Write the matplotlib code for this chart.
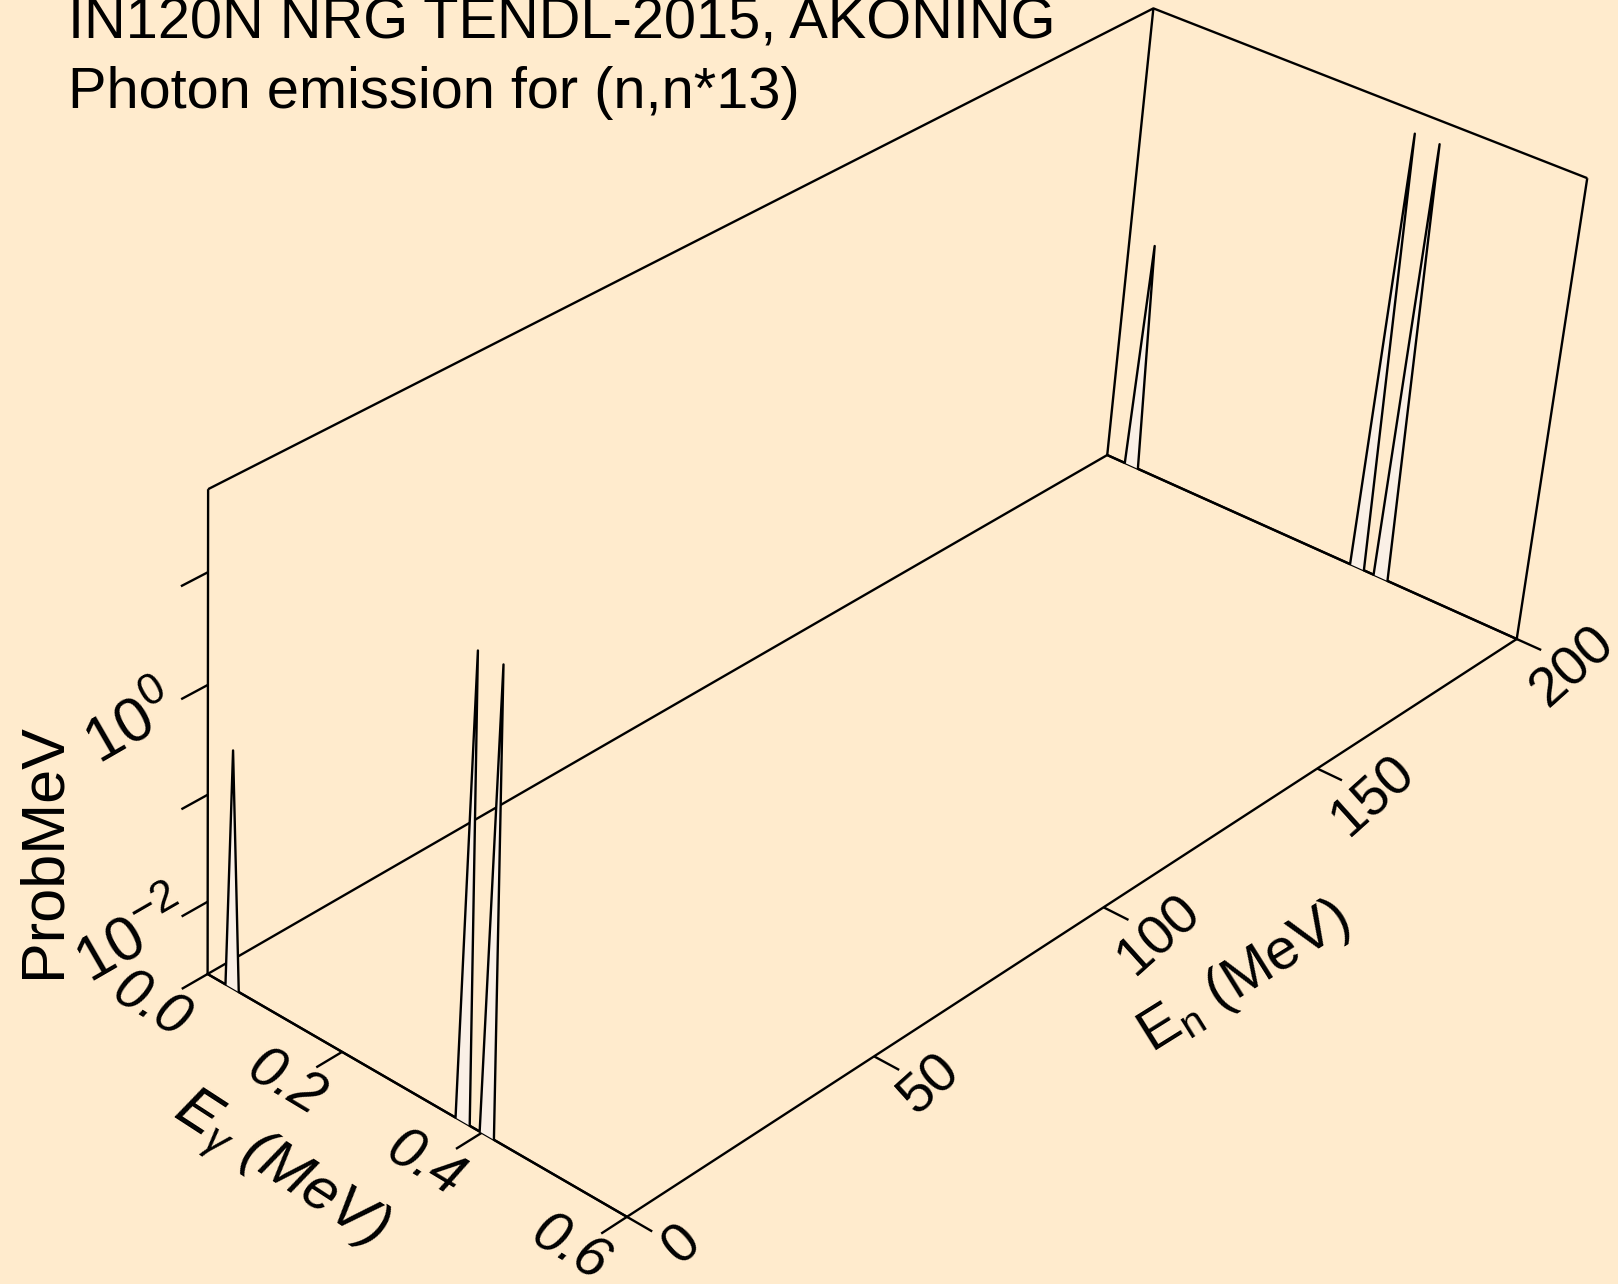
import numpy as np
import matplotlib.pyplot as plt

plt.rcParams['font.family'] = ['Liberation Sans', 'DejaVu Sans']
plt.rcParams['mathtext.fontset'] = 'custom'
plt.rcParams['mathtext.rm'] = 'Liberation Sans'
plt.rcParams['mathtext.it'] = 'Liberation Sans:italic'

title1 = 'IN120N NRG TENDL-2015, AKONING'
title2 = 'Photon emission for (n,n*13)'

# incident neutron energies (MeV) of the two spectra
e_incident = [0.0, 200.0]
# photon energy grid (MeV) and prob/MeV at each incident energy
e_gamma = [0.0, 0.027, 0.037, 0.047, 0.363, 0.373, 0.383, 0.397, 0.407, 0.417, 0.6]
prob_low = [0, 0, 0.34, 0, 0, 33.5, 0, 0, 33.0, 0, 0]
prob_high = [0, 0, 0.34, 0, 0, 33.0, 0, 0, 32.5, 0, 0]
spectra = [prob_low, prob_high]

eg_ticks = [0.0, 0.2, 0.4, 0.6]
eg_ticklabels = ['0.0', '0.2', '0.4', '0.6']
en_ticks = [0, 50, 100, 150, 200]
en_ticklabels = ['0', '50', '100', '150', '200']
z_ticks = [-2, -1, 0, 1]
z_ticklabels = {-2: r'$\mathit{10}^{\mathit{-2}}$', 0: r'$\mathit{10}^{\mathit{0}}$'}

# box limits (z is log10 of prob/MeV)
EG_LIM = (0.0, 0.6)
EN_LIM = (0.0, 200.0)
Z_LIM = (-2.69, 1.72)

W, H = 1618, 1284
BG = '#FFEBCD'
FILL = '#FAF0E6'
LW = 1.7

# where a few box points land on the page, used to fit the perspective camera
ANCHORS = [
    ((0.0, 0, Z_LIM[0]), (208, 974)),
    ((0.0, 0, Z_LIM[1]), (208, 489.3)),
    ((0.0, 200, Z_LIM[0]), (1107.3, 455)),
    ((0.0, 200, Z_LIM[1]), (1153.3, 8.3)),
    ((0.6, 200, Z_LIM[0]), (1516.7, 639)),
    ((0.6, 200, Z_LIM[1]), (1587.3, 178.3)),
    ((0.6, 0, Z_LIM[0]), (628.3, 1216.7)),
    ((0.2, 0, Z_LIM[0]), (341.7, 1052)),
    ((0.4, 0, Z_LIM[0]), (480, 1132.7)),
    ((0.0, 0, 1), (208, 571.7)),
    ((0.0, 0, 0), (208, 685)),
    ((0.0, 0, -1), (208, 795)),
    ((0.0, 0, -2), (208, 901.7)),
]


def norm(eg, en, z):
    return ((np.asarray(eg, float) - EG_LIM[0]) / (EG_LIM[1] - EG_LIM[0]),
            (np.asarray(en, float) - EN_LIM[0]) / (EN_LIM[1] - EN_LIM[0]),
            (np.asarray(z, float) - Z_LIM[0]) / (Z_LIM[1] - Z_LIM[0]))


def fit_camera():
    rows = []
    for (eg, en, z), (u, v) in ANCHORS:
        p = np.array([*[float(c) for c in norm(eg, en, z)], 1.0])
        u, v = u / W, v / H
        rows.append(np.r_[p, np.zeros(4), -u * p])
        rows.append(np.r_[np.zeros(4), p, -v * p])
    return np.linalg.svd(np.array(rows))[2][-1].reshape(3, 4)


CAM = fit_camera()


def proj(eg, en, z):
    x, y, zz = np.broadcast_arrays(*norm(eg, en, z))
    h = CAM @ np.vstack([x.ravel(), y.ravel(), zz.ravel(), np.ones(x.size)])
    return h[0] / h[2] * W, h[1] / h[2] * H


fig = plt.figure(figsize=(W / 100, H / 100), dpi=100, facecolor=BG)
ax = fig.add_axes([0, 0, 1, 1])
ax.set_xlim(0, W)
ax.set_ylim(H, 0)
ax.axis('off')


def line3(eg, en, z, **kw):
    u, v = proj(eg, en, z)
    ax.plot(u, v, color='black', lw=LW, solid_capstyle='butt', **kw)


zlo, zhi = Z_LIM
e0, e1 = EG_LIM
n0, n1 = EN_LIM

# box: floor, three back verticals, two back top edges
line3([e0, e1, e1, e0, e0], [n0, n0, n1, n1, n0], zlo, zorder=1)
for eg, en in [(e0, n0), (e0, n1), (e1, n1)]:
    line3([eg, eg], [en, en], [zlo, zhi], zorder=1)
line3([e0, e0, e1], [n0, n1, n1], zhi, zorder=1)

# ticks
for z in z_ticks:
    line3([e0, e0], [n0, n0 - 5], [z, z], zorder=1)
for eg in eg_ticks:
    line3([eg, eg], [n0, n0 - 5], [zlo, zlo], zorder=1)
for en in en_ticks:
    line3([e1, e1 + 0.034], [en, en], [zlo, zlo], zorder=1)

# spectra, back one first
for k in [1, 0]:
    z = np.log10(np.clip(np.array(spectra[k], float), 10 ** zlo, None))
    u, v = proj(e_gamma, e_incident[k], z)
    ax.fill(u, v, color=FILL, lw=0, zorder=2)
    ax.plot(u, v, color='black', lw=LW, zorder=3)


def label(s, pt, dx, dy, rot, size, **kw):
    u, v = proj(*pt)
    ax.annotate(s, (float(u[0]), float(v[0])), xytext=(dx, -dy),
                textcoords='offset pixels', rotation=rot, rotation_mode='anchor',
                ha='center', va='center', fontsize=size, **kw)


label(z_ticklabels[0], (e0, n0, 0), -76, 42, 30, 45)
label(z_ticklabels[-2], (e0, n0, -2), -74, 38, 30, 45)
for eg, s in zip(eg_ticks, eg_ticklabels):
    label(s, (eg, n0, zlo), -57, 32, -31, 41, style='italic')
for en, s in zip(en_ticks, en_ticklabels):
    label(s, (e1, en, zlo), 56, 28, 42, 40)

label(r'E$_{\gamma}$ (MeV)', (0.3, n0, zlo), -132, 79, -33, 43, style='italic')
label(r'E$_{\mathrm{n}}$ (MeV)', (e1, 100, zlo), 141, 70, 32, 42)
label('ProbMeV', (e0, n0, -1), -164, 56, 90, 44)

ax.text(68, 39, title1, fontsize=41.6, ha='left', va='baseline')
ax.text(68, 108.5, title2, fontsize=41.6, ha='left', va='baseline')

fig.savefig('out.png', dpi=100, facecolor=BG)
